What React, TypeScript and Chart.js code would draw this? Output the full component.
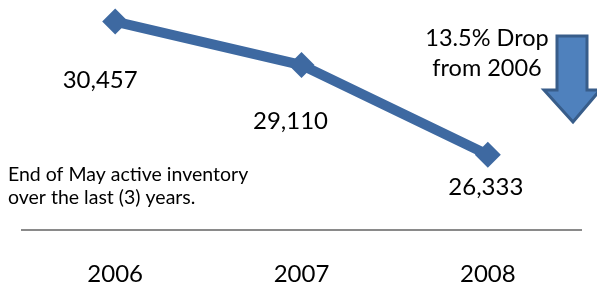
import React, { useEffect, useRef } from "react";
import { Chart, registerables } from "chart.js";

Chart.register(...registerables);

const years = ["2006", "2007", "2008"];
const inventory = [30457, 29110, 26333];
const valueLabels = ["30,457", "29,110", "26,333"];
const noteLines = ["End of May active inventory", "over the last (3) years."];
const dropLines = ["13.5% Drop", "from 2006"];

const FONT = "Lato, 'Open Sans', sans-serif";
const LINE_COLOR = "#3E69A1";

const annotations = {
  id: "annotations",
  afterDatasetsDraw(chart: any) {
    const ctx = chart.ctx;
    const meta = chart.getDatasetMeta(0);
    const offsets = [
      [-15, 59],
      [-11, 56],
      [-2, 33],
    ];
    ctx.save();
    ctx.fillStyle = "#000";
    ctx.textAlign = "center";
    ctx.textBaseline = "middle";
    ctx.font = `24px ${FONT}`;
    meta.data.forEach((pt: any, i: number) => {
      ctx.fillText(valueLabels[i], pt.x + offsets[i][0], pt.y + offsets[i][1]);
    });
    // note text
    ctx.textAlign = "left";
    ctx.font = `19.5px ${FONT}`;
    ctx.fillText(noteLines[0], 8, 175);
    ctx.fillText(noteLines[1], 8, 198);
    // drop text
    ctx.textAlign = "center";
    ctx.font = `23.5px ${FONT}`;
    ctx.fillText(dropLines[0], 487, 38);
    ctx.fillText(dropLines[1], 487, 68);
    // arrow
    ctx.beginPath();
    ctx.moveTo(557, 36);
    ctx.lineTo(587, 36);
    ctx.lineTo(587, 90);
    ctx.lineTo(600, 90);
    ctx.lineTo(573, 122);
    ctx.lineTo(544, 90);
    ctx.lineTo(557, 90);
    ctx.closePath();
    ctx.fillStyle = "#4F81BD";
    ctx.fill();
    ctx.lineWidth = 3;
    ctx.strokeStyle = "#385D8A";
    ctx.lineJoin = "miter";
    ctx.stroke();
    ctx.restore();
  },
};

export default function App() {
  const ref = useRef<HTMLCanvasElement>(null);
  useEffect(() => {
    if (!ref.current) return;
    const chart = new Chart(ref.current, {
      type: "line",
      data: {
        labels: years,
        datasets: [
          {
            data: inventory,
            borderColor: LINE_COLOR,
            backgroundColor: LINE_COLOR,
            borderWidth: 10,
            pointStyle: "rectRot",
            pointRadius: 13,
            pointBackgroundColor: LINE_COLOR,
            pointBorderColor: LINE_COLOR,
            pointBorderWidth: 0,
            tension: 0,
            clip: false as any,
          },
        ],
      },
      options: {
        animation: false,
        responsive: false,
        layout: { autoPadding: false, padding: { left: 22, right: 16, top: 4, bottom: 0 } },
        plugins: { legend: { display: false }, tooltip: { enabled: false } },
        scales: {
          x: {
            type: "category",
            offset: true,
            grid: { display: false, drawTicks: false },
            border: { display: true, color: "#8A8A8A", width: 2 },
            ticks: {
              color: "#000",
              font: { family: FONT, size: 24 },
              padding: 30,
            },
            afterFit: (scale: any) => {
              scale.height = 52;
            },
          },
          y: {
            display: false,
            min: 24000,
            max: 31000,
          },
        },
      },
      plugins: [annotations],
    });
    return () => chart.destroy();
  }, []);
  return (
    <div style={{ position: "fixed", left: 0, top: 0, width: 597, height: 282, background: "#fff" }}>
      <canvas ref={ref} width={597} height={282} style={{ width: 597, height: 282 }} />
    </div>
  );
}
